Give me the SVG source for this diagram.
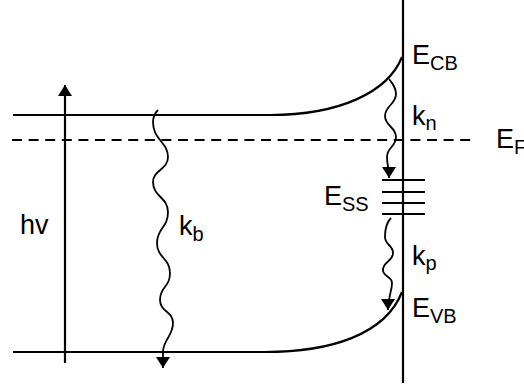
<svg xmlns="http://www.w3.org/2000/svg" width="524" height="385" viewBox="0 0 524 385">
  <style>
    .line { fill: none; stroke: #000; stroke-width: 2.2; stroke-linecap: butt; }
    .dash { fill: none; stroke: #000; stroke-width: 2.2; stroke-dasharray: 10 6.6; }
    .wave { fill: none; stroke: #000; stroke-width: 1.8; }
    .lbl { font-family: "Liberation Sans", Arial, sans-serif; font-size: 27px; fill: #000; }
    .sub { font-size: 20px; }
  </style>
  <defs>
    <marker id="arrow" markerUnits="userSpaceOnUse" markerWidth="12" markerHeight="14" refX="11" refY="7" orient="auto">
      <path d="M0,0 L11,7 L0,14 z" fill="#000"/>
    </marker>
  </defs>
  <rect width="524" height="385" fill="#fff"/>

  <g id="surface">
    <line class="line" x1="403" y1="0" x2="403" y2="383"/>
  </g>

  <g id="conduction-band">
    <path class="line" d="M13,115 L270,115 C340,115 388,92 402,57"/>
    <text class="lbl" x="412" y="64">E<tspan class="sub" dy="6">CB</tspan></text>
  </g>

  <g id="valence-band">
    <path class="line" d="M13,352 L265,352 C330,352 385,335 402,292"/>
    <text class="lbl" x="412" y="317">E<tspan class="sub" dy="6">VB</tspan></text>
  </g>

  <g id="fermi-level">
    <line class="dash" x1="12" y1="140" x2="476" y2="140"/>
    <text class="lbl" x="496" y="148">E<tspan class="sub" dy="6">F</tspan></text>
  </g>

  <g id="surface-states">
    <line class="line" x1="382" y1="180" x2="425" y2="180"/>
    <line class="line" x1="382" y1="192" x2="425" y2="192"/>
    <line class="line" x1="382" y1="203" x2="425" y2="203"/>
    <line class="line" x1="382" y1="214" x2="425" y2="214"/>
    <text class="lbl" x="324" y="205">E<tspan class="sub" dy="6">SS</tspan></text>
  </g>

  <g id="photon">
    <text class="lbl" x="20" y="234">hv</text>
  </g>

  <g id="connectors">
    <path class="line" d="M65,363 L65,85" marker-end="url(#arrow)"/>
    <path class="wave" d="M158,110 C155,113 153,117 153,122 C153,140 168,142 168,157 C168,170 153,170 153,182 C153,197 168,197 168,212 C168,228 157,228 157,243 C157,258 170,258 170,273 C170,288 160,286 160,300 C160,312 173,311 173,323 C173,336 163,340 163,352 L163,368" marker-end="url(#arrow)"/>
    <path class="wave" d="M389,79 C393,84 396,88 396,94 C396,104 385,106 385,116 C385,126 396,127 396,137 C396,147 387,147 387,157 C387,165 389,168 389,178" marker-end="url(#arrow)"/>
    <path class="wave" d="M391,218 C387,222 385,230 385,237 C385,245 393,245 393,253 C393,262 383,261 383,270 C383,277 392,276 392,283 C392,292 388,296 388,310" marker-end="url(#arrow)"/>
    <text class="lbl" x="179" y="235">k<tspan class="sub" dy="6">b</tspan></text>
    <text class="lbl" x="412" y="125">k<tspan class="sub" dy="5">n</tspan></text>
    <text class="lbl" x="412" y="265">k<tspan class="sub" dy="5">p</tspan></text>
  </g>
</svg>
